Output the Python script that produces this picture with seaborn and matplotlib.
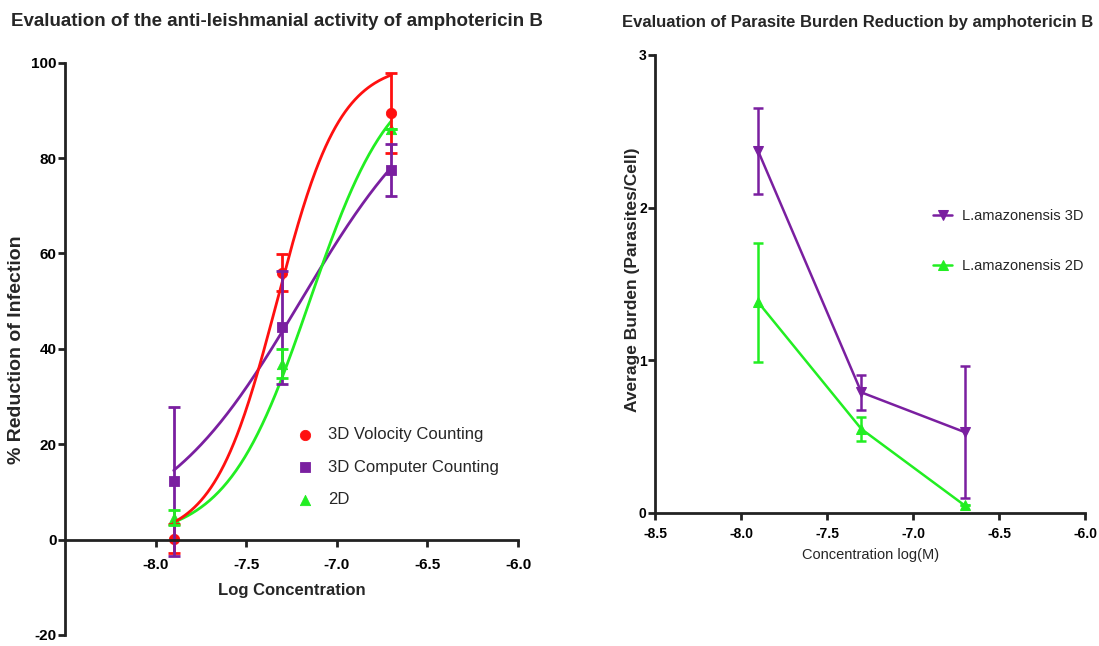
import numpy as np
import pandas as pd
import seaborn as sns
import matplotlib.pyplot as plt

sns.set_style('white')
plt.rcParams['font.family'] = ['Liberation Sans', 'DejaVu Sans']
plt.rcParams['axes.unicode_minus'] = False

# left panel data
log_conc = [-7.9, -7.3, -6.7]
volocity = [0.2, 56.0, 89.5]
volocity_err = [3.0, 3.8, 8.4]
computer = [12.2, 44.5, 77.5]
computer_err = [15.6, 11.8, 5.4]
two_d = [4.6, 36.9, 86.0]
two_d_err = [1.6, 3.0, 0.0]
# hill fit params: bottom, top, logEC50, slope
fit_volocity = (0, 100, -7.33, 2.5)
fit_computer = (0, 100, -7.2, 1.1)
fit_2d = (0, 100, -7.15, 1.9)

# right panel data
burden_3d = [2.37, 0.79, 0.53]
burden_3d_err = [0.28, 0.115, 0.43]
burden_2d = [1.38, 0.55, 0.05]
burden_2d_err = [0.39, 0.08, 0.0]

red = '#FF1010'
purple = '#7A1FA0'
green = '#22EE22'

def hill(x, p):
    b, t, ec, h = p
    return b + (t - b) / (1 + 10 ** ((ec - x) * h))

W, H = 1099, 646
fig = plt.figure(figsize=(10.99, 6.46), dpi=100)
ax1 = fig.add_axes([65 / W, 1 - 635 / H, 453 / W, 572.3 / H])
ax2 = fig.add_axes([655 / W, 1 - 513 / H, 430 / W, 458 / H])

xs = np.linspace(-7.9, -6.7, 200)
for p, c in [(fit_computer, purple), (fit_2d, green), (fit_volocity, red)]:
    sns.lineplot(x=xs, y=hill(xs, p), color=c, lw=2, ax=ax1)

for y, e, c, m, lab in [(volocity, volocity_err, red, 'o', '3D Volocity Counting'),
                        (computer, computer_err, purple, 's', '3D Computer Counting'),
                        (two_d, two_d_err, green, '^', '2D')]:
    ax1.errorbar(log_conc, y, yerr=e, fmt='none', ecolor=c, elinewidth=2, capsize=4, capthick=2)
    sns.scatterplot(x=log_conc, y=y, color=c, marker=m, s=55, edgecolor=c, label=lab, ax=ax1)

ax1.set_xlim(-8.5, -6.0)
ax1.set_ylim(-20, 100)
ax1.spines['top'].set_visible(False)
ax1.spines['right'].set_visible(False)
ax1.spines['bottom'].set_position(('data', 0))
for s in ['left', 'bottom']:
    ax1.spines[s].set_linewidth(2)
    ax1.spines[s].set_color('#222222')
ax1.set_xticks([-8.0, -7.5, -7.0, -6.5, -6.0])
ax1.set_xticklabels(['-8.0', '-7.5', '-7.0', '-6.5', '-6.0'])
ax1.set_yticks([-20, 0, 20, 40, 60, 80, 100])
ax1.tick_params(axis='both', direction='out', length=5, width=2, labelsize=11,
                left=True, bottom=True, colors='#222222', labelcolor='black')
ax1.tick_params(axis='x', pad=8)
ax1.tick_params(axis='y', pad=1)
for t in ax1.get_xticklabels() + ax1.get_yticklabels():
    t.set_fontweight('bold')
ax1.set_xlabel('')
ax1.set_ylabel('')
fig.text(292 / W, 1 - 590 / H, 'Log Concentration', fontsize=12, fontweight='bold',
         ha='center', va='center')
fig.text(17 / W, 1 - 350 / H, '% Reduction of Infection', fontsize=14, fontweight='bold',
         ha='center', va='center', rotation=90)
fig.text(277 / W, 1 - 22 / H, 'Evaluation of the anti-leishmanial activity of amphotericin B',
         fontsize=13.5, fontweight='bold', ha='center', va='center')
ax1.legend(loc='upper left', bbox_to_anchor=((288.7 - 65) / 453, (635 - 419) / 572.3),
           frameon=False, fontsize=12, borderpad=0, handlelength=1.0,
           handletextpad=0.88, labelspacing=1.05)

# right panel
ax2.errorbar(log_conc, burden_3d, yerr=burden_3d_err, fmt='none', ecolor=purple, elinewidth=1.8, capsize=3.5, capthick=1.8)
ax2.errorbar(log_conc, burden_2d, yerr=burden_2d_err, fmt='none', ecolor=green, elinewidth=1.8, capsize=3.5, capthick=1.8)
sns.lineplot(x=log_conc, y=burden_3d, color=purple, marker='v', markersize=7, markeredgecolor=purple,
             lw=1.8, label='L.amazonensis 3D', ax=ax2)
sns.lineplot(x=log_conc, y=burden_2d, color=green, marker='^', markersize=7, markeredgecolor=green,
             lw=1.8, label='L.amazonensis 2D', ax=ax2)
ax2.set_xlim(-8.5, -6.0)
ax2.set_ylim(0, 3)
ax2.spines['top'].set_visible(False)
ax2.spines['right'].set_visible(False)
for s in ['left', 'bottom']:
    ax2.spines[s].set_linewidth(2)
    ax2.spines[s].set_color('#222222')
ax2.set_xticks([-8.5, -8.0, -7.5, -7.0, -6.5, -6.0])
ax2.set_xticklabels(['-8.5', '-8.0', '-7.5', '-7.0', '-6.5', '-6.0'])
ax2.set_yticks([0, 1, 2, 3])
ax2.tick_params(axis='both', direction='out', length=5, width=2, labelsize=10,
                left=True, bottom=True, colors='#222222', labelcolor='black')
ax2.tick_params(axis='x', pad=5)
ax2.tick_params(axis='y', pad=1)
for t in ax2.get_xticklabels() + ax2.get_yticklabels():
    t.set_fontweight('bold')
ax2.set_xlabel('')
ax2.set_ylabel('')
fig.text(871 / W, 1 - 555 / H, 'Concentration log(M)', fontsize=10.5, ha='center', va='center')
fig.text(632 / W, 1 - 280 / H, 'Average Burden (Parasites/Cell)', fontsize=12.5, fontweight='bold',
         ha='center', va='center', rotation=90)
fig.text(858 / W, 1 - 22 / H, 'Evaluation of Parasite Burden Reduction by amphotericin B',
         fontsize=12, fontweight='bold', ha='center', va='center')
ax2.legend(loc='center left', bbox_to_anchor=((926 - 655) / 430, (513 - 241) / 458),
           frameon=False, fontsize=10.5, borderpad=0, handlelength=1.3,
           handletextpad=0.68, labelspacing=2.47)

fig.savefig('out.png', dpi=100)
